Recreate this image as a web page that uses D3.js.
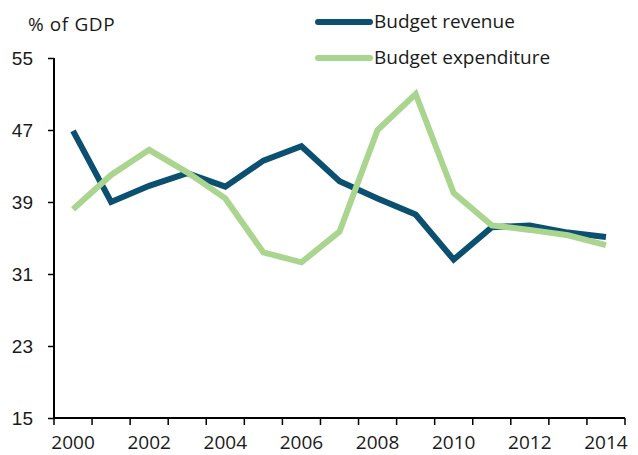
<!DOCTYPE html>
<html>
<head>
<meta charset="utf-8">
<script src="https://cdn.jsdelivr.net/npm/d3@7"></script>
<style>
  html, body { margin: 0; padding: 0; background: #fff; }
  svg { display: block; font-family: "Open Sans", "Noto Sans", sans-serif; }
</style>
</head>
<body>
<svg id="chart" width="638" height="455"></svg>
<script>
// Budget revenue and expenditure, % of GDP
const years = [2000, 2001, 2002, 2003, 2004, 2005, 2006, 2007, 2008, 2009, 2010, 2011, 2012, 2013, 2014];
const revenue = [46.9, 39.0, 40.8, 42.2, 40.7, 43.6, 45.2, 41.3, 39.4, 37.6, 32.6, 36.2, 36.4, 35.6, 35.1];
const expenditure = [38.2, 42.0, 44.8, 42.3, 39.4, 33.4, 32.3, 35.7, 47.0, 51.0, 40.0, 36.4, 35.9, 35.3, 34.2];
const yTicks = [15, 23, 31, 39, 47, 55];
const xLabelYears = [2000, 2002, 2004, 2006, 2008, 2010, 2012, 2014];
const seriesNames = ["Budget revenue", "Budget expenditure"];
const seriesColors = ["#0b5070", "#a9d58f"];

const svg = d3.select("#chart");
const plotLeft = 54, plotRight = 625, plotTop = 58, plotBottom = 418;

const x = d3.scaleBand().domain(years).range([plotLeft, plotRight]).padding(0);
const y = d3.scaleLinear().domain([15, 55]).range([plotBottom, plotTop]);
const cx = d => x(d) + x.bandwidth() / 2;

// y axis
const yAxis = svg.append("g")
  .attr("transform", `translate(${plotLeft},0)`)
  .call(d3.axisLeft(y).tickValues(yTicks).tickSize(6).tickPadding(15).tickFormat(d3.format("d")));
yAxis.select(".domain").attr("stroke", "#000").attr("stroke-width", 2).attr("d", `M0,${plotTop}V${plotBottom}`);
yAxis.selectAll(".tick line").attr("stroke", "#000").attr("stroke-width", 1.5);
yAxis.selectAll(".tick text").attr("fill", "#1a1a1a").style("font-size", "19px").style("font-family", null);

// x axis: ticks on category boundaries, labels centred in every other category
const xg = svg.append("g").attr("transform", `translate(0,${plotBottom})`);
xg.append("path").attr("d", `M${plotLeft},0H${plotRight}`).attr("stroke", "#000").attr("stroke-width", 2).attr("fill", "none");
const boundaries = years.map(d => x(d)).concat([x.range()[1]]);
xg.selectAll("line.tk").data(boundaries).join("line")
  .attr("class", "tk")
  .attr("x1", d => d).attr("x2", d => d)
  .attr("y1", 0).attr("y2", 7)
  .attr("stroke", "#000").attr("stroke-width", 1.5);
xg.selectAll("text.lbl").data(xLabelYears).join("text")
  .attr("class", "lbl")
  .attr("x", d => cx(d))
  .attr("y", 31)
  .attr("text-anchor", "middle")
  .attr("fill", "#1a1a1a")
  .style("font-size", "19px")
  .text(d => d);

// axis title
svg.append("text").attr("x", 28).attr("y", 31).attr("fill", "#1a1a1a").style("font-size", "19px")
  .style("letter-spacing", "0.6px").text("% of GDP");

// series lines
const line = d3.line().x((d, i) => cx(years[i])).y(d => y(d));
[revenue, expenditure].forEach((s, i) => {
  svg.append("path")
    .datum(s)
    .attr("d", line)
    .attr("fill", "none")
    .attr("stroke", seriesColors[i])
    .attr("stroke-width", 6)
    .attr("stroke-linejoin", "miter")
    .attr("stroke-linecap", "butt");
});

// legend
const legend = svg.append("g");
seriesNames.forEach((name, i) => {
  const ly = 22 + i * 36;
  legend.append("line")
    .attr("x1", 318).attr("x2", 370).attr("y1", ly).attr("y2", ly)
    .attr("stroke", seriesColors[i]).attr("stroke-width", 6).attr("stroke-linecap", "round");
  legend.append("text")
    .attr("x", 374).attr("y", ly + 6)
    .attr("fill", "#1a1a1a")
    .style("font-size", "19px")
    .text(name);
});
</script>
</body>
</html>
